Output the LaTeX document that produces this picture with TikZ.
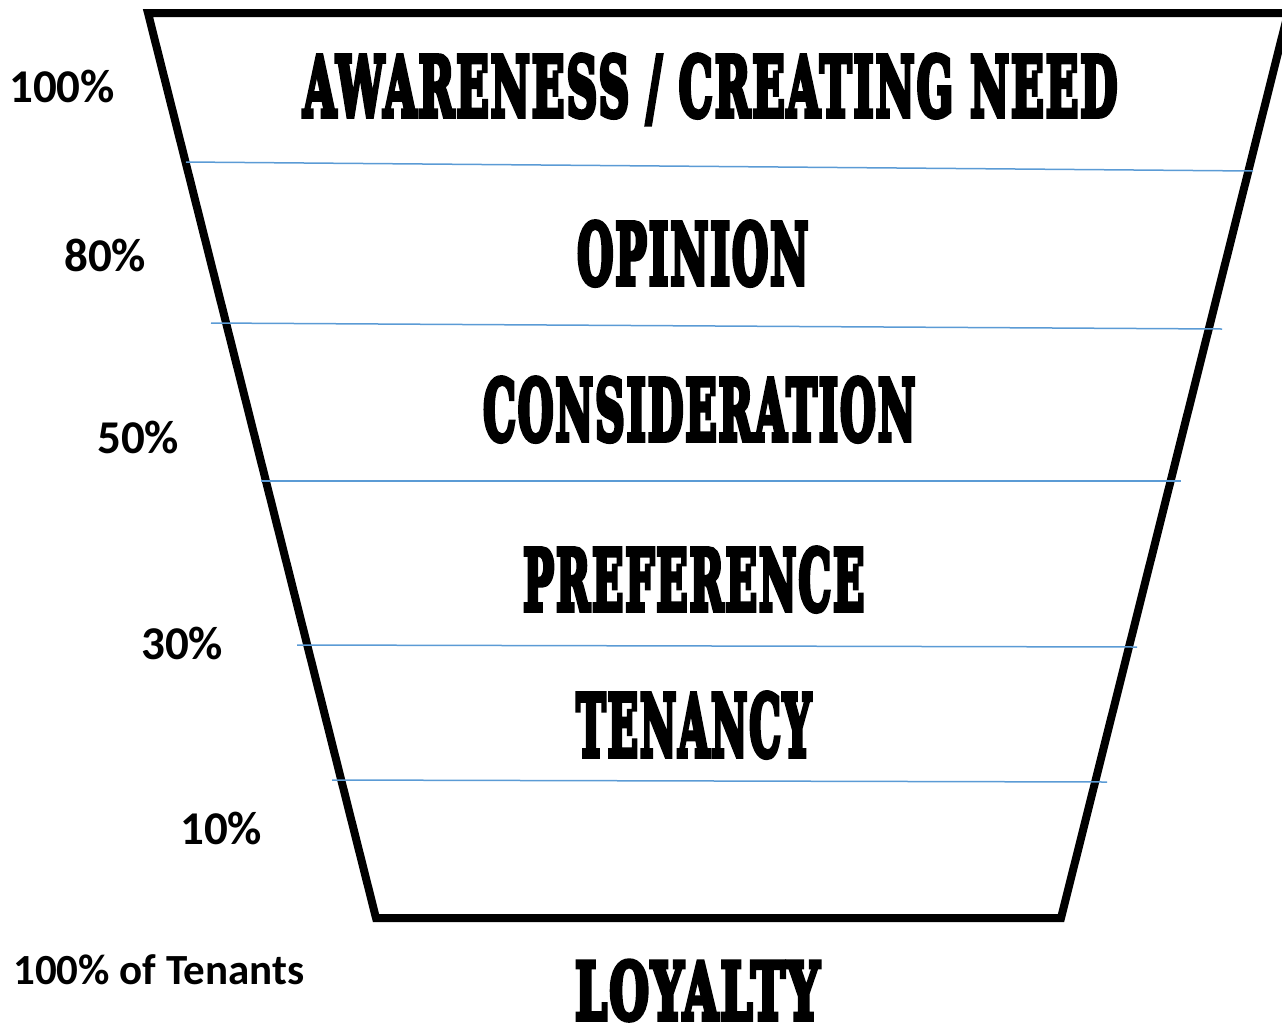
\documentclass[tikz,border=0pt]{standalone}
\usepackage{fontspec}
\setmainfont{Carlito}
\newfontfamily\stagefont{DejaVu Serif Bold}[FakeBold=7, LetterSpace=5]

\definecolor{divblue}{RGB}{91,155,213}

\tikzset{
  funnel/.style={line width=8pt, line join=miter, black},
  divider/.style={divblue, line width=1.5pt},
  pct/.style={font=\bfseries\fontsize{47}{50}\selectfont, anchor=base west, inner sep=0pt},
  stage/.style={anchor=base west, inner sep=0pt},
}
% stage name squeezed into a box of given width and cap height
\newcommand{\stagename}[3]{\resizebox{#1pt}{#2pt}{\stagefont #3\hspace{-0.05em}}}

\begin{document}
\begin{tikzpicture}[x=1pt,y=-1pt]
  \useasboundingbox (0,0) rectangle (1282,1029);

  % funnel outline
  \draw[funnel] (1288,13) -- (148,13) -- (376,918) -- (1061,918) -- cycle;

  % dividers between stages
  \coordinate (d1l) at (186,162);  \coordinate (d1r) at (1253,171);
  \coordinate (d2l) at (211,323);  \coordinate (d2r) at (1222,329);
  \coordinate (d3l) at (261,481);  \coordinate (d3r) at (1181,481);
  \coordinate (d4l) at (297,645);  \coordinate (d4r) at (1137,647);
  \coordinate (d5l) at (332,780);  \coordinate (d5r) at (1107,782);
  \foreach \i in {1,...,5}
    \draw[divider] (d\i l) -- (d\i r);

  % stages
  \node[stage] (aware) at (303,116)
    {\stagename{812}{61}{AWARENESS \raisebox{0pt}[0pt][0pt]{/} CREATING NEED}};
  \node[stage] (opinion) at (577,284) {\stagename{229}{62}{OPINION}};
  \node[stage] (consid) at (483,440) {\stagename{430}{62}{CONSIDERATION}};
  \node[stage] (prefer) at (523,610) {\stagename{339}{62}{PREFERENCE}};
  \node[stage] (tenancy) at (576,756) {\stagename{233}{63}{TENANCY}};
  \node[stage] (loyalty) at (575,1019) {\stagename{242}{58}{LOYALTY}};

  % percentages
  \node[pct] (p100) at (9,102) {100\%};
  \node[pct] (p80) at (64,271) {80\%};
  \node[pct] (p50) at (97,453) {50\%};
  \node[pct] (p30) at (141,659) {30\%};
  \node[pct] (p10) at (180,844) {10\%};
  \node[pct, font=\bfseries\fontsize{43}{46}\selectfont] (tenants) at (13,984) {100\% of Tenants};
\end{tikzpicture}
\end{document}
